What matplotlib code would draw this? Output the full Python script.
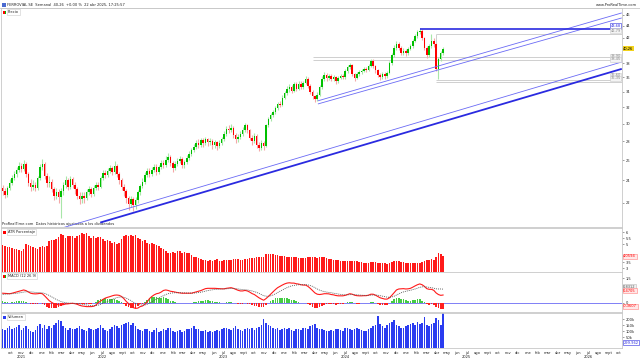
import datetime as dt
import matplotlib
matplotlib.use("Agg")
import matplotlib.pyplot as plt
import matplotlib.dates as mdates
import matplotlib.transforms as mtrans
from matplotlib.ticker import FixedLocator, FixedFormatter, NullLocator

# ---------------- data ----------------
start = dt.date(2021, 9, 6)
n_weeks = 190
dates = [start + dt.timedelta(weeks=k) for k in range(n_weeks)]

closes = [23.0, 22.7, 23.3, 23.8, 24.2, 24.6, 25.0, 25.4, 25.1, 25.6,
          24.6, 23.8, 23.4, 23.6, 23.3, 24.2, 25.3, 25.6, 24.4, 23.8,
          23.9, 23.2, 22.6, 22.9, 22.5, 23.0, 23.6, 24.0, 23.4, 24.1,
          23.6, 23.2, 22.6, 22.3, 22.6, 22.4, 22.9, 23.2, 22.8, 23.3,
          23.6, 23.4, 24.2, 24.7, 24.5, 24.9, 25.2, 24.8, 25.4, 24.6,
          24.0, 23.4, 23.0, 22.4, 21.9, 22.3, 21.8, 22.2, 22.9, 23.5,
          23.9, 24.5, 24.9, 24.6, 25.0, 25.3, 24.8, 25.3, 25.7, 25.5,
          26.0, 26.3, 25.7, 25.2, 25.6, 25.9, 26.1, 25.5, 25.8, 26.2,
          26.6, 27.0, 27.4, 27.8, 27.6, 28.1, 27.8, 28.2, 27.9, 28.0,
          27.6, 27.9, 27.5, 27.8, 28.2, 28.8, 29.4, 29.2, 29.5, 28.7,
          28.2, 28.5, 28.8, 29.3, 29.8, 29.2, 28.4, 28.0, 28.6, 27.6,
          27.3, 27.8, 27.5, 29.8, 30.5, 31.0, 31.4, 31.9, 32.4, 32.3,
          33.2, 33.8, 34.3, 34.6, 34.1, 35.0, 34.4, 35.1, 34.6, 35.2,
          35.8, 34.8, 34.0, 33.4, 33.0, 33.6, 34.6, 35.8, 36.3, 35.9,
          36.2, 35.7, 36.0, 35.5, 35.9, 36.2, 36.0, 36.8, 37.5, 37.7,
          36.4, 35.9, 36.4, 36.7, 36.9, 37.2, 37.0, 37.6, 38.3, 37.6,
          37.0, 36.3, 36.0, 36.4, 36.1, 36.6, 38.0, 39.2, 40.4, 41.0,
          40.3, 39.6, 39.9, 39.5, 40.2, 40.6, 41.5, 42.3, 42.9, 43.2,
          42.0, 40.4, 39.2, 40.6, 41.5, 41.0, 37.2, 38.6, 39.5, 40.26]
highs = [23.6, 23.3, 23.5, 24.1, 24.5, 24.9, 25.3, 25.8, 25.7, 26.0,
         25.8, 24.8, 24.1, 24.0, 23.9, 24.4, 25.6, 26.1, 25.8, 24.7,
         24.4, 24.1, 23.4, 23.3, 23.2, 23.3, 23.9, 24.4, 24.2, 24.4,
         24.3, 23.9, 23.4, 22.9, 22.9, 22.9, 23.2, 23.5, 23.4, 23.6,
         23.9, 23.9, 24.4, 25.0, 25.0, 25.2, 25.5, 25.4, 25.9, 25.6,
         24.8, 24.2, 23.7, 23.2, 22.6, 22.6, 22.5, 22.5, 23.1, 23.7,
         24.2, 24.8, 25.2, 25.2, 25.3, 25.6, 25.6, 25.5, 26.0, 26.0,
         26.4, 26.7, 26.5, 25.9, 25.9, 26.2, 26.4, 26.3, 26.0, 26.5,
         26.9, 27.3, 27.7, 28.1, 28.2, 28.4, 28.4, 28.5, 28.4, 28.3,
         28.2, 28.1, 28.0, 28.1, 28.5, 29.1, 29.7, 29.8, 29.9, 29.7,
         28.9, 28.8, 29.1, 29.6, 30.1, 30.0, 29.4, 28.7, 28.9, 28.8,
         27.9, 28.1, 28.0, 30.0, 30.8, 31.3, 31.7, 32.2, 32.7, 32.8,
         33.5, 34.1, 34.7, 35.0, 34.9, 35.3, 35.3, 35.4, 35.4, 35.5,
         36.2, 36.0, 35.0, 34.2, 33.6, 33.9, 34.9, 36.1, 36.7, 36.6,
         36.5, 36.4, 36.3, 36.2, 36.2, 36.5, 36.5, 37.1, 37.8, 38.1,
         37.9, 36.6, 36.7, 37.0, 37.2, 37.5, 37.5, 37.9, 38.7, 38.6,
         37.8, 37.2, 36.6, 36.7, 36.7, 36.9, 38.3, 39.5, 40.8, 41.4,
         41.3, 40.6, 40.3, 40.2, 40.5, 41.0, 41.8, 42.7, 43.3, 43.6,
         43.4, 42.2, 40.7, 41.0, 42.6, 41.9, 41.2, 38.9, 39.8, 40.5]
lows = [22.7, 22.4, 22.5, 23.1, 23.6, 24.0, 24.3, 24.8, 24.8, 24.9,
        24.3, 23.5, 23.0, 23.1, 23.0, 23.1, 24.0, 25.0, 24.1, 23.4,
        23.4, 22.9, 22.2, 22.3, 22.0, 20.7, 22.7, 23.3, 23.1, 23.2,
        23.3, 22.8, 22.3, 21.9, 22.0, 22.0, 22.2, 22.7, 22.5, 22.6,
        23.1, 23.1, 23.3, 24.0, 24.2, 24.3, 24.7, 24.5, 24.6, 24.3,
        23.7, 23.1, 22.6, 22.0, 21.4, 21.6, 21.3, 21.5, 22.0, 22.7,
        23.3, 23.7, 24.3, 24.3, 24.4, 24.8, 24.5, 24.6, 25.1, 25.2,
        25.3, 25.8, 25.4, 24.8, 25.0, 25.4, 25.7, 25.2, 25.2, 25.6,
        26.0, 26.4, 26.8, 27.2, 27.3, 27.4, 27.4, 27.6, 27.5, 27.6,
        27.2, 27.3, 27.1, 27.3, 27.6, 28.0, 28.6, 28.9, 29.0, 28.4,
        27.8, 27.9, 28.2, 28.6, 29.0, 28.9, 28.1, 27.6, 27.8, 27.3,
        26.9, 27.0, 27.1, 27.4, 29.6, 30.3, 30.8, 31.2, 31.7, 32.0,
        32.1, 33.0, 33.6, 34.0, 33.8, 33.9, 34.1, 34.2, 34.3, 34.4,
        35.0, 34.5, 33.7, 33.0, 32.6, 32.8, 33.4, 34.4, 35.5, 35.5,
        35.6, 35.4, 35.4, 35.1, 35.2, 35.7, 35.7, 35.8, 36.6, 37.2,
        36.1, 35.5, 35.7, 36.1, 36.4, 36.7, 36.7, 36.8, 37.4, 37.3,
        36.6, 36.0, 35.6, 35.7, 35.8, 35.9, 36.4, 37.8, 39.0, 40.1,
        40.0, 39.2, 39.3, 39.1, 39.3, 40.0, 40.4, 41.3, 42.0, 42.6,
        41.7, 40.0, 38.8, 39.0, 40.3, 40.5, 36.9, 35.8, 38.3, 39.3]
first_open = 23.3

atr_pct = [4.94, 4.90, 4.80, 4.75, 4.67, 4.58, 4.64, 4.53, 4.47, 4.58,
           5.03, 4.97, 4.86, 4.75, 4.70, 4.64, 4.80, 4.86, 4.80, 4.86,
           5.30, 5.36, 5.36, 5.42, 5.64, 5.86, 5.78, 5.50, 5.70, 5.70,
           5.70, 5.50, 5.70, 5.78, 5.97, 5.86, 5.92, 5.70, 5.50, 5.70,
           5.50, 5.64, 5.58, 5.42, 5.30, 5.36, 5.30, 5.08, 5.20, 5.03,
           5.08, 5.42, 5.70, 5.81, 5.70, 5.75, 5.70, 5.81, 5.50, 5.42,
           5.30, 5.36, 5.08, 5.03, 5.14, 5.03, 4.94, 4.86, 4.67, 4.58,
           4.47, 4.30, 4.25, 4.36, 4.30, 4.42, 4.47, 4.30, 4.36, 4.30,
           4.25, 4.11, 3.97, 3.92, 3.83, 3.75, 3.69, 3.69, 3.64, 3.69,
           3.64, 3.69, 3.75, 3.64, 3.62, 3.65, 3.70, 3.68, 3.72, 3.75,
           3.78, 3.74, 3.70, 3.72, 3.76, 3.80, 3.85, 3.82, 3.86, 3.92,
           3.95, 3.92, 3.90, 4.20, 4.22, 4.18, 4.15, 4.12, 4.10, 4.05,
           4.02, 4.00, 3.98, 3.96, 3.95, 3.92, 3.90, 3.88, 3.85, 3.86,
           3.88, 3.90, 3.92, 3.93, 3.90, 3.88, 3.90, 3.95, 3.92, 3.86,
           3.80, 3.76, 3.72, 3.70, 3.65, 3.62, 3.58, 3.60, 3.62, 3.60,
           3.64, 3.62, 3.58, 3.55, 3.50, 3.48, 3.45, 3.46, 3.50, 3.52,
           3.50, 3.48, 3.45, 3.42, 3.40, 3.38, 3.45, 3.52, 3.60, 3.62,
           3.58, 3.55, 3.50, 3.46, 3.42, 3.40, 3.42, 3.45, 3.46, 3.48,
           3.50, 3.62, 3.70, 3.72, 3.74, 3.70, 3.95, 4.30, 4.20, 4.06]

macd = [0.58, 0.57, 0.56, 0.55, 0.58, 0.62, 0.66, 0.70, 0.74, 0.78,
        0.74, 0.66, 0.58, 0.55, 0.54, 0.55, 0.57, 0.55, 0.42, 0.27,
        0.12, 0.02, -0.06, -0.10, -0.13, -0.14, -0.12, -0.08, -0.07, -0.05,
        -0.04, -0.06, -0.10, -0.16, -0.20, -0.22, -0.24, -0.24, -0.24, -0.22,
        -0.15, 0.00, 0.10, 0.20, 0.28, 0.33, 0.37, 0.42, 0.46, 0.47,
        0.45, 0.38, 0.25, 0.08, -0.05, -0.18, -0.30, -0.35, -0.33, -0.24,
        -0.20, -0.10, 0.05, 0.25, 0.38, 0.48, 0.55, 0.58, 0.65, 0.75,
        0.78, 0.75, 0.70, 0.68, 0.65, 0.62, 0.60, 0.58, 0.58, 0.58,
        0.58, 0.58, 0.62, 0.66, 0.70, 0.74, 0.80, 0.86, 0.88, 0.88,
        0.88, 0.88, 0.87, 0.86, 0.85, 0.85, 0.88, 0.90, 0.92, 0.88,
        0.82, 0.76, 0.72, 0.72, 0.75, 0.72, 0.65, 0.56, 0.50, 0.40,
        0.30, 0.22, 0.15, 0.25, 0.38, 0.52, 0.66, 0.80, 0.92, 1.00,
        1.08, 1.15, 1.20, 1.22, 1.20, 1.20, 1.16, 1.14, 1.10, 1.08,
        1.08, 1.00, 0.88, 0.74, 0.60, 0.52, 0.50, 0.52, 0.55, 0.55,
        0.54, 0.50, 0.48, 0.44, 0.42, 0.42, 0.42, 0.45, 0.50, 0.55,
        0.52, 0.46, 0.43, 0.42, 0.42, 0.43, 0.43, 0.46, 0.52, 0.52,
        0.46, 0.38, 0.30, 0.26, 0.22, 0.22, 0.30, 0.45, 0.62, 0.78,
        0.84, 0.85, 0.86, 0.84, 0.85, 0.88, 0.95, 1.03, 1.10, 1.15,
        1.10, 1.00, 0.86, 0.82, 0.82, 0.76, 0.60, 0.50, 0.45, 0.4705]
signal = [0.50, 0.52, 0.53, 0.54, 0.55, 0.56, 0.58, 0.60, 0.62, 0.65,
          0.67, 0.67, 0.66, 0.65, 0.63, 0.62, 0.61, 0.60, 0.57, 0.51,
          0.44, 0.36, 0.28, 0.20, 0.13, 0.07, 0.03, 0.00, -0.02, -0.03,
          -0.03, -0.04, -0.05, -0.07, -0.09, -0.12, -0.14, -0.16, -0.18, -0.19,
          -0.18, -0.15, -0.10, -0.04, 0.02, 0.08, 0.14, 0.20, 0.26, 0.31,
          0.34, 0.35, 0.33, 0.28, 0.21, 0.13, 0.04, -0.04, -0.10, -0.13,
          -0.15, -0.14, -0.10, -0.03, 0.05, 0.14, 0.22, 0.29, 0.36, 0.43,
          0.50, 0.55, 0.58, 0.60, 0.61, 0.61, 0.61, 0.60, 0.60, 0.59,
          0.59, 0.59, 0.59, 0.60, 0.62, 0.64, 0.67, 0.71, 0.74, 0.77,
          0.79, 0.81, 0.82, 0.83, 0.84, 0.84, 0.85, 0.86, 0.87, 0.87,
          0.86, 0.84, 0.82, 0.80, 0.79, 0.78, 0.75, 0.72, 0.68, 0.63,
          0.57, 0.50, 0.43, 0.40, 0.39, 0.42, 0.47, 0.54, 0.62, 0.70,
          0.77, 0.85, 0.92, 0.98, 1.03, 1.06, 1.08, 1.10, 1.10, 1.10,
          1.10, 1.09, 1.05, 1.00, 0.92, 0.84, 0.77, 0.72, 0.68, 0.65,
          0.63, 0.61, 0.58, 0.56, 0.53, 0.51, 0.49, 0.48, 0.48, 0.49,
          0.50, 0.49, 0.48, 0.47, 0.46, 0.45, 0.45, 0.45, 0.46, 0.47,
          0.47, 0.46, 0.43, 0.40, 0.37, 0.34, 0.33, 0.35, 0.40, 0.47,
          0.54, 0.61, 0.66, 0.70, 0.73, 0.76, 0.80, 0.84, 0.89, 0.94,
          0.97, 0.98, 0.96, 0.94, 0.92, 0.89, 0.85, 0.84, 0.84, 0.8312]

volume_k = [120, 110, 130, 140, 115, 125, 135, 150, 110, 130,
            145, 120, 100, 95, 110, 140, 160, 130, 150, 120,
            140, 130, 150, 170, 190, 185, 140, 130, 110, 125,
            120, 115, 130, 140, 120, 110, 105, 125, 115, 110,
            120, 130, 150, 125, 110, 100, 120, 135, 150, 140,
            130, 150, 160, 170, 180, 150, 165, 140, 120, 110,
            100, 115, 120, 105, 95, 110, 130, 90, 100, 120,
            110, 125, 130, 100, 95, 105, 110, 90, 100, 115,
            120, 130, 140, 115, 120, 105, 100, 110, 95, 100,
            90, 105, 110, 100, 115, 125, 130, 120, 110, 125,
            140, 120, 110, 105, 120, 130, 115, 125, 110, 130,
            135, 150, 200, 170, 150, 140, 130, 120, 125, 110,
            115, 130, 120, 125, 110, 105, 115, 120, 110, 130,
            125, 120, 140, 150, 160, 130, 120, 115, 110, 100,
            105, 110, 100, 120, 115, 110, 105, 125, 130, 120,
            110, 120, 130, 120, 110, 105, 100, 115, 125, 140,
            150, 230, 160, 140, 130, 150, 170, 180, 190, 150,
            140, 130, 125, 140, 150, 160, 170, 150, 180, 160,
            170, 220, 150, 140, 160, 170, 210, 190, 150, 300]

# drawn objects (date, price)
trend_lo_thin = [(dt.date(2022, 3, 7), 19.95), (dt.date(2026, 10, 10), 38.2)]
trend_lo_thick = [(dt.date(2022, 6, 26), 20.35), (dt.date(2026, 10, 10), 37.18)]
trend_up_a = [(dt.date(2024, 4, 10), 32.8), (dt.date(2026, 10, 10), 46.3)]
trend_up_b = [(dt.date(2024, 4, 10), 32.4), (dt.date(2026, 10, 10), 45.4)]
hline_blue = (dt.date(2025, 2, 10), 43.55)
hlines_gray = [(dt.date(2024, 3, 25), 38.9), (dt.date(2024, 3, 25), 38.45),
               (dt.date(2025, 3, 31), 35.6), (dt.date(2025, 3, 31), 35.35),
               (dt.date(2025, 3, 31), 42.6)]
# labels of drawn objects: (price position, text, kind)
obj_labels = [(44.06, "43,68", "blue"), (43.2, "42,79", "gray"),
              (39.05, "38,90", "gray"), (38.6, "38,45", "gray"),
              (36.26, "35,60", "gray"), (35.84, "35,35", "gray")]

price_ticks = [22, 24, 26, 28, 30, 32, 34, 36, 38, 42, 44, 46]
atr_ticks = [3, 3.5, 5, 5.5, 6]
macd_ticks = [0, 1.5]
vol_ticks = [50, 100, 150, 200]
vol_tick_labels = ["50k", "100k", "150k", "200k"]
month_names = ["ene", "feb", "mar", "abr", "may", "jun", "jul", "ago",
               "sept", "oct", "nov", "dic"]

# ---------------- layout ----------------
W, H = 640, 360
fig = plt.figure(figsize=(W / 100, H / 100), dpi=100)
fig.patch.set_facecolor("white")


def box(x0, y0, x1, y1):
    return [x0 / W, 1 - y1 / H, (x1 - x0) / W, (y1 - y0) / H]


ax_p = fig.add_axes(box(1, 8, 622, 227))
ax_a = fig.add_axes(box(1, 228, 622, 272), sharex=ax_p)
ax_m = fig.add_axes(box(1, 272, 622, 312), sharex=ax_p)
ax_v = fig.add_axes(box(1, 313, 622, 348), sharex=ax_p)

x0 = mdates.date2num(start) - 5.1
x1 = mdates.date2num(start) + 1860.6
dn = mdates.date2num(dates)

FS = 2.6
TXT = "#222222"
for ax in (ax_p, ax_a, ax_m, ax_v):
    ax.set_facecolor("white")
    for s in ax.spines.values():
        s.set_color("#c8c8c8")
        s.set_linewidth(0.6)
    ax.yaxis.tick_right()
    ax.tick_params(axis="y", labelsize=FS, length=1.5, width=0.5, colors="#777777",
                   labelcolor=TXT, pad=1.2)
    ax.tick_params(axis="x", length=0, labelbottom=False)
    ax.set_xlim(x0, x1)

bt = mtrans.blended_transform_factory


def axis_box(ax, y, text, fc, tc="black", ec="none"):
    ax.text(1.002, y, text, transform=bt(ax.transAxes, ax.transData), fontsize=FS,
            va="center", ha="left", color=tc, clip_on=False, zorder=6,
            bbox=dict(boxstyle="square,pad=0.15", fc=fc, ec=ec, lw=0.4))


# ---------------- price ----------------
opens = [first_open] + closes[:-1]
up_c, dn_c = "#00c000", "#ff0000"
wick_up, wick_dn = "#a8e6a8", "#f5a8a8"
for d, o, h, l, c in zip(dn, opens, highs, lows, closes):
    ax_p.vlines(d, l, h, color=wick_up if c >= o else wick_dn, lw=0.8, zorder=2)
body_h = [max(abs(c - o), 0.05) for o, c in zip(opens, closes)]
body_b = [min(o, c) for o, c in zip(opens, closes)]
body_col = [up_c if c >= o else dn_c for o, c in zip(opens, closes)]
ax_p.bar(dn, body_h, bottom=body_b, width=4.6, color=body_col, lw=0, zorder=3)
ax_p.set_yscale("log")
ax_p.set_ylim(20.0, 47.2)
ax_p.yaxis.set_major_locator(FixedLocator(price_ticks))
ax_p.yaxis.set_major_formatter(FixedFormatter([str(t) for t in price_ticks]))
ax_p.yaxis.set_minor_locator(NullLocator())

for seg, lw, col in ((trend_lo_thin, 0.6, "#6a6af5"), (trend_lo_thick, 1.3, "#2a2ae0"),
                     (trend_up_a, 0.6, "#6a6af5"), (trend_up_b, 0.6, "#6a6af5")):
    (da, pa), (db, pb) = seg
    ax_p.plot([mdates.date2num(da), mdates.date2num(db)], [pa, pb], color=col, lw=lw,
              zorder=4, solid_capstyle="butt")
ax_p.hlines(hline_blue[1], mdates.date2num(hline_blue[0]), x1, color="#2a2ae0", lw=1.2, zorder=4)
for d, p in hlines_gray:
    ax_p.hlines(p, mdates.date2num(d), x1, color="#cfcfcf", lw=0.7, zorder=1)
ax_p.vlines(mdates.date2num(hlines_gray[4][0]), 40.9, 42.6, color="#cfcfcf", lw=0.7, zorder=1)

for p, t, kind in obj_labels:
    if kind == "blue":
        fc, tc, ec = "white", "#2a2ae0", "#2a2ae0"
    else:
        fc, tc, ec = "#f4f4f4", "#888888", "#cccccc"
    ax_p.text(0.998, p, t, transform=bt(ax_p.transAxes, ax_p.transData), fontsize=FS,
              va="center", ha="right", color=tc, zorder=6,
              bbox=dict(boxstyle="square,pad=0.15", fc=fc, ec=ec, lw=0.4))

axis_box(ax_p, 40.26, "40,26", "#f2d21b")

ax_p.text(0.002, 0.006, "ProRealTime.com  Datos históricos ajustados a los dividendos",
          transform=ax_p.transAxes, fontsize=FS, color=TXT, va="bottom", ha="left")

# ---------------- ATR ----------------
atr_bottom = 2.69
ax_a.bar(dn, [v - atr_bottom for v in atr_pct], bottom=atr_bottom, width=4.8,
         color="#ff1a1a", lw=0)
ax_a.set_ylim(atr_bottom, 6.36)
ax_a.yaxis.set_major_locator(FixedLocator(atr_ticks))
ax_a.yaxis.set_major_formatter(FixedFormatter([f"{t:g}".replace(".", ",") for t in atr_ticks]))
axis_box(ax_a, 4.0, "4,0594", "#ffe8e8", tc="#ff0000", ec="#ff8080")

# ---------------- MACD ----------------
hist = [m - s for m, s in zip(macd, signal)]
ax_m.bar(dn, hist, width=4.8, color=["#44cc44" if h >= 0 else "#ff2020" for h in hist], lw=0,
         zorder=2)
ax_m.axhline(0, color="#6a6af5", lw=0.6, zorder=1)
ax_m.plot(dn, macd, color="#ff1a1a", lw=0.8, zorder=3)
ax_m.plot(dn, signal, color="#555555", lw=0.6, ls=(0, (1.2, 1.2)), zorder=3)
ax_m.set_ylim(-0.57, 1.88)
ax_m.yaxis.set_major_locator(FixedLocator(macd_ticks))
ax_m.yaxis.set_major_formatter(FixedFormatter(["0", "1,5"]))
axis_box(ax_m, 0.96, "0,8312", "#f0f0f0", tc="#555555", ec="#bbbbbb")
axis_box(ax_m, 0.73, "0,4705", "#ffe8e8", tc="#ff0000", ec="#ff8080")
axis_box(ax_m, -0.22, "-0,3607", "#ffe8e8", tc="#ff0000", ec="#ff8080")

# ---------------- volume ----------------
vol_lo, vol_hi = -39, 252
ax_v.bar(dn, [v - vol_lo for v in volume_k], bottom=vol_lo, width=4.8, color="#2a3cf0", lw=0)
ax_v.set_ylim(vol_lo, vol_hi)
ax_v.yaxis.set_major_locator(FixedLocator(vol_ticks))
ax_v.yaxis.set_major_formatter(FixedFormatter(vol_tick_labels))
ax_v.text(1.002, 5, "299.962", transform=bt(ax_v.transAxes, ax_v.transData), fontsize=FS,
          color="#2a2ae0", va="center", clip_on=False,
          bbox=dict(boxstyle="square,pad=0.15", fc="white", ec="#2a2ae0", lw=0.4))

# month axis
months = []
y, m = 2021, 10
while (y, m) <= (2026, 10):
    months.append(dt.date(y, m, 1))
    m += 1
    if m > 12:
        m, y = 1, y + 1
ax_v.xaxis.set_major_locator(FixedLocator(mdates.date2num(months)))
ax_v.xaxis.set_major_formatter(FixedFormatter(
    [month_names[d.month - 1] + (f"\n{d.year}" if (d.month == 7 or (d.year, d.month) == (2021, 11)) else "")
     for d in months]))
ax_v.tick_params(axis="x", labelbottom=True, labelsize=FS, length=0, pad=2.5, labelcolor=TXT)
for lbl in ax_v.get_xticklabels():
    lbl.set_linespacing(1.0)
    lbl.set_verticalalignment("top")

# ---------------- headers / legends ----------------
fig.text(7 / W, 1 - 4.5 / H, "FERROVIAL SE  Semanal  40,26  +0,00 %  22 abr 2025, 17:25:57",
         fontsize=FS, color=TXT, va="center", ha="left")
fig.patches.append(plt.Rectangle((1.5 / W, 1 - 7 / H), 4 / W, 4 / H, transform=fig.transFigure,
                                 fc="#4a6ad0", ec="none"))
fig.text(637 / W, 1 - 4.5 / H, "www.ProRealTime.com", fontsize=FS, color=TXT, va="center", ha="right")
fig.lines.append(plt.Line2D([0, 1], [1 - 8 / H, 1 - 8 / H], transform=fig.transFigure,
                            color="#c8c8c8", lw=0.6))


def legend(top_px, text, colors):
    yc = top_px + 4.2
    fig.text(8 / W, 1 - yc / H, text, fontsize=FS, color=TXT, va="center", ha="left",
             bbox=dict(boxstyle="square,pad=0.3", fc="white", ec="#cccccc", lw=0.4))
    w = 3.0 / len(colors)
    for k, c in enumerate(colors):
        fig.patches.append(plt.Rectangle(((3 + k * w) / W, 1 - (yc + 1.6) / H), w / W, 3.2 / H,
                                         transform=fig.transFigure, fc=c, ec="none", zorder=6))


legend(8, "Precio", ["#ff0000", "#00c000"])
legend(228, "ATR Porcentaje", ["#ff0000"])
legend(272, "MACD (12 26 9)", ["#ff0000", "#00c000"])
legend(313, "Volumen", ["#2a3cf0"])

fig.savefig("out.png", dpi=100, facecolor="white")
